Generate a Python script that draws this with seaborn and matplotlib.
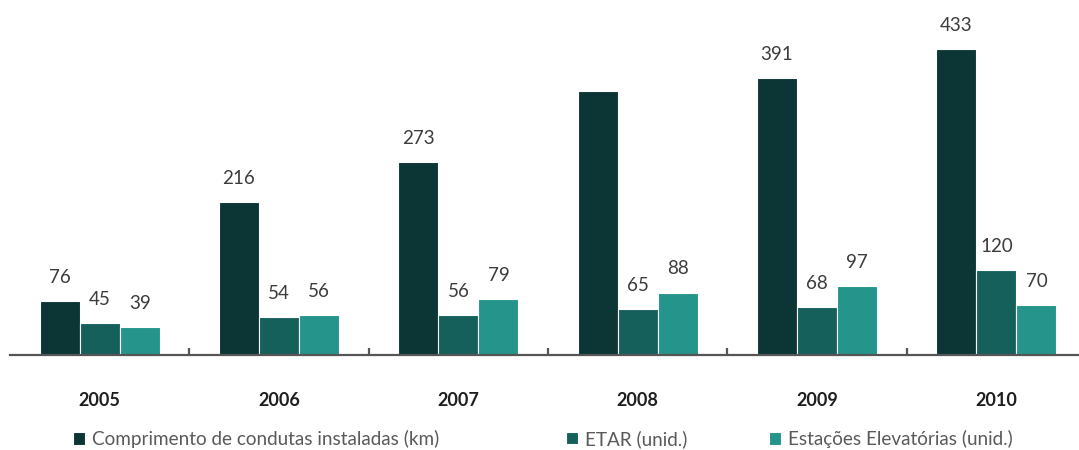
import matplotlib
matplotlib.use("Agg")
import matplotlib.pyplot as plt
import seaborn as sns
import pandas as pd

anos = ["2005", "2006", "2007", "2008", "2009", "2010"]
series = [
    "Comprimento de condutas instaladas (km)",
    "ETAR (unid.)",
    "Estações Elevatórias (unid.)",
]
condutas_km = [76, 216, 273, 374, 391, 433]
etar_unid = [45, 54, 56, 65, 68, 120]
estacoes_unid = [39, 56, 79, 88, 97, 70]
# the 2008 pipeline bar carries no printed value
rotulos_condutas = ["76", "216", "273", "", "391", "433"]

cores = ["#0c3535", "#16605c", "#25948a"]

df = pd.DataFrame({
    "ano": anos * 3,
    "serie": [series[0]] * 6 + [series[1]] * 6 + [series[2]] * 6,
    "valor": condutas_km + etar_unid + estacoes_unid,
})

sns.set_theme(style="white")
plt.rcParams["font.family"] = ["Lato", "DejaVu Sans"]

fig = plt.figure(figsize=(10.79, 4.5), dpi=100)
ax = fig.add_axes([10 / 1079, 95 / 450, 1076 / 1079, 355 / 450])

sns.barplot(data=df, x="ano", y="valor", hue="serie", order=anos,
            hue_order=series, palette=cores, width=0.67, gap=0.0,
            edgecolor="white", linewidth=0.8, saturation=1, ax=ax)

ax.set_ylim(0, 502)
ax.set_xlim(-0.5, 5.5)

rotulos = [rotulos_condutas,
           [str(v) for v in etar_unid],
           [str(v) for v in estacoes_unid]]
for cont, labs in zip(ax.containers, rotulos):
    ax.bar_label(cont, labels=labs, padding=11, fontsize=13.5,
                 color="#3c3c3c", fontweight="normal")

for s in ["top", "left", "right"]:
    ax.spines[s].set_visible(False)
ax.spines["bottom"].set_color("#555555")
ax.spines["bottom"].set_linewidth(1.6)

ax.set_yticks([])
ax.set_xlabel("")
ax.set_ylabel("")
ax.set_xticks(range(len(anos)))
ax.set_xticklabels(anos, fontsize=13, fontweight="bold", color="#1e1e1e")
ax.tick_params(axis="x", which="major", length=0, pad=27)
ax.set_xticks([i + 0.5 for i in range(len(anos) - 1)], minor=True)
ax.tick_params(axis="x", which="minor", bottom=True, direction="in",
               length=5, width=1.6, color="#555555")

handles, labels = ax.get_legend_handles_labels()
ax.get_legend().remove()
posicoes = [73 / 1079, 566 / 1079, 769 / 1079]
for h, l, px in zip(handles, labels, posicoes):
    fig.legend([h], [l], loc="center left", bbox_to_anchor=(px, 1 - 439 / 450),
               frameon=False, handlelength=0.62, handleheight=0.62,
               handletextpad=0.4, borderaxespad=0, borderpad=0,
               prop={"size": 13.6, "weight": "normal"}, labelcolor="#5a5a5a")

fig.savefig("out.png", dpi=100)
